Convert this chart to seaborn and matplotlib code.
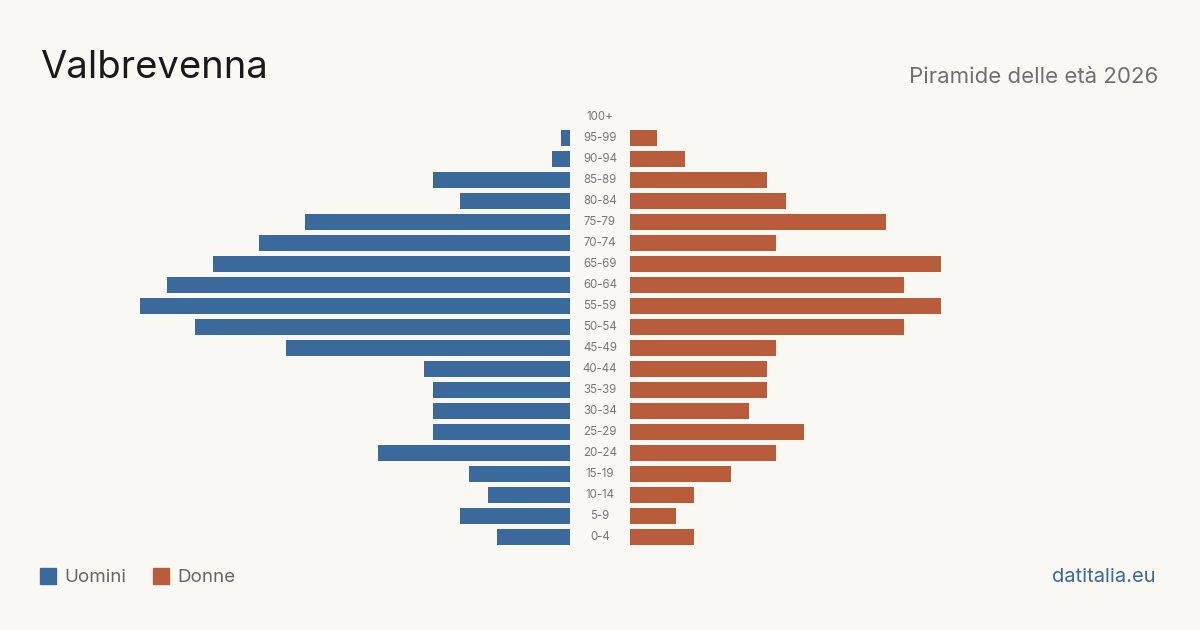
import matplotlib
matplotlib.use('Agg')
import matplotlib.pyplot as plt
import seaborn as sns
import pandas as pd

# age classes, top to bottom
age_groups = ['100+', '95-99', '90-94', '85-89', '80-84', '75-79', '70-74', '65-69',
              '60-64', '55-59', '50-54', '45-49', '40-44', '35-39', '30-34', '25-29',
              '20-24', '15-19', '10-14', '5-9', '0-4']
men = [0, 1, 2, 15, 12, 29, 34, 39, 44, 47, 41, 31, 16, 15, 15, 15, 21, 11, 9, 12, 8]
women = [0, 3, 6, 15, 17, 28, 16, 34, 30, 34, 30, 16, 15, 15, 13, 19, 16, 11, 7, 5, 7]

blue = '#3a6a9c'
orange = '#b95c3c'
bg = '#f9f8f3'

sns.set_theme(style='white')
plt.rcParams['font.family'] = ['Inter', 'DejaVu Sans']

df = pd.DataFrame({'age': age_groups, 'men': men, 'women': women})
xmax = max(max(men), max(women))

fig = plt.figure(figsize=(12, 6.3), dpi=100, facecolor=bg)

ax_l = fig.add_axes([140 / 1200, 0.131, 430 / 1200, 0.7])
ax_r = fig.add_axes([630 / 1200, 0.131, 430 / 1200, 0.7])

sns.barplot(data=df, x='men', y='age', ax=ax_l, color=blue, width=0.8, saturation=1,
            orient='h', linewidth=0)
sns.barplot(data=df, x='women', y='age', ax=ax_r, color=orange, width=0.8, saturation=1,
            orient='h', linewidth=0)

ax_l.set_xlim(xmax, 0)
ax_r.set_xlim(0, xmax)
for ax in (ax_l, ax_r):
    ax.set_ylim(len(age_groups) - 0.5, -0.5)
    ax.set_facecolor('none')
    ax.set_xlabel('')
    ax.set_ylabel('')
    ax.set_xticks([])
    ax.set_yticks([])
    for s in ax.spines.values():
        s.set_visible(False)

# age labels in the gap between the two halves
for i, a in enumerate(age_groups):
    ax_r.text(-30 / 430 * xmax, i, a, ha='center', va='center',
              fontsize=8.3, color='#777777', clip_on=False)

fig.text(40 / 1200, 1 - 68 / 630, 'Valbrevenna', fontsize=27.5, color='#1a1a1a', va='center', ha='left')
fig.text(1158 / 1200, 1 - 77 / 630, 'Piramide delle età 2026', fontsize=16, color='#6f6f6f',
         va='center', ha='right')

# legend
fig.patches.append(plt.Rectangle((40 / 1200, 1 - 584 / 630), 16 / 1200, 16 / 630,
                                 transform=fig.transFigure, color=blue))
fig.text(64 / 1200, 1 - 577 / 630, 'Uomini', fontsize=13.5, color='#666666', va='center')
fig.patches.append(plt.Rectangle((153 / 1200, 1 - 584 / 630), 16 / 1200, 16 / 630,
                                 transform=fig.transFigure, color=orange))
fig.text(177 / 1200, 1 - 577 / 630, 'Donne', fontsize=13.5, color='#666666', va='center')

fig.text(1156 / 1200, 1 - 577 / 630, 'datitalia.eu', fontsize=14.5, color=blue, va='center', ha='right')

fig.savefig('out.png', dpi=100, facecolor=bg)
